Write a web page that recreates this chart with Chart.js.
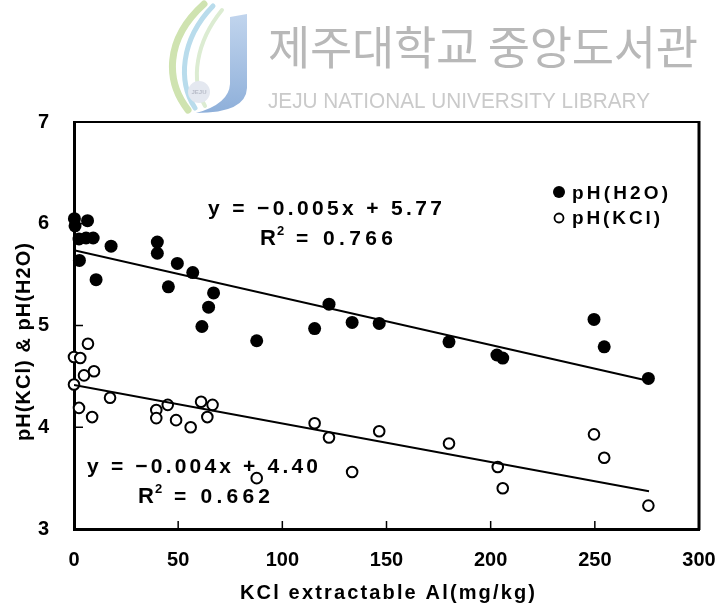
<!DOCTYPE html>
<html><head><meta charset="utf-8">
<style>html,body{margin:0;padding:0;background:#fff;}#wrap{width:722px;height:608px;position:relative;}</style>
<script src="https://cdn.jsdelivr.net/npm/chart.js@4.4.0/dist/chart.umd.min.js"></script>
</head><body><div id="wrap"><canvas id="c" width="722" height="608"></canvas></div>
<script>
// ---- data ----
const h2oX = [0.2, 0.5, 6.5, 2.4, 5.8, 9.2, 17.8, 2.6, 10.6, 40, 40, 49.6, 57, 45.3, 67, 64.6, 61.4, 87.7, 115.5, 122.4, 133.5, 146.5, 180, 203, 205.8, 249.6, 254.5, 275.7];
const h2oY = [6.05, 5.98, 6.03, 5.85, 5.86, 5.86, 5.78, 5.64, 5.45, 5.82, 5.71, 5.61, 5.52, 5.38, 5.32, 5.18, 4.99, 4.85, 4.97, 5.21, 5.03, 5.02, 4.84, 4.71, 4.68, 5.06, 4.79, 4.48];
const kclX = [6.7, 0, 3, 4.8, 9.6, 0, 17.3, 2.4, 8.7, 39.5, 39.5, 45, 49, 56, 61, 66.5, 64, 87.7, 115.5, 122.4, 133.5, 146.5, 180, 203.4, 205.8, 249.6, 254.5, 275.7];
const kclY = [4.82, 4.69, 4.68, 4.51, 4.55, 4.42, 4.29, 4.19, 4.10, 4.17, 4.09, 4.22, 4.07, 4.00, 4.25, 4.22, 4.10, 3.50, 4.04, 3.90, 3.56, 3.96, 3.84, 3.61, 3.40, 3.93, 3.70, 3.23];
const fitH2oX = [0, 275];
const fitH2oY = [5.74, 4.46];
const fitKclX = [0, 276];
const fitKclY = [4.415, 3.37];
const xTicks = [0, 50, 100, 150, 200, 250, 300];
const yTicks = [3, 4, 5, 6, 7];
const seriesNames = ['pH(H2O)', 'pH(KCl)'];
const eqH2o = ['y = \u22120.005x + 5.77', 'R', '2', ' = 0.766'];
const eqKcl = ['y = \u22120.004x + 4.40', 'R', '2', ' = 0.662'];
const xTitle = 'KCl extractable Al(mg/kg)';
const yTitle = 'pH(KCl) & pH(H2O)';
const wmKo = '제주대학교 중앙도서관';
const wmEn = 'JEJU NATIONAL UNIVERSITY LIBRARY';

const toPts = (xs, ys) => xs.map((x, i) => ({x: x, y: ys[i]}));
const FONT = "'Liberation Sans', Arial, sans-serif";

function fitText(ctx, text, x, y, w, font, color) {
  ctx.font = font; ctx.letterSpacing = '0px';
  const m = ctx.measureText(text).width;
  const n = [...text].length;
  const ls = n > 1 ? (w - m) / (n - 1) : 0;
  ctx.letterSpacing = ls + 'px';
  ctx.fillStyle = color; ctx.fillText(text, x, y);
  ctx.letterSpacing = '0px';
}

const decor = {
  id: 'decor',
  beforeDraw(chart) {
    const ctx = chart.ctx;
    ctx.save();
    // logo swooshes
    ctx.lineCap = 'round';
    const sw = [['#cfe3b0', 7, [204,4, 164,40, 166,82, 188,110]], ['#b9dcec', 5, [213,6, 180,40, 178,82, 195,108]], ['#dcecd2', 4, [222,10, 196,42, 190,80, 205,106]]];
    sw.forEach(s => { ctx.strokeStyle = s[0]; ctx.lineWidth = s[1]; const p = s[2];
      ctx.beginPath(); ctx.moveTo(p[0], p[1]); ctx.bezierCurveTo(p[2], p[3], p[4], p[5], p[6], p[7]); ctx.stroke(); });
    const g = ctx.createLinearGradient(0, 10, 0, 112);
    g.addColorStop(0, '#c3d6ee'); g.addColorStop(1, '#8fb0da');
    ctx.fillStyle = g;
    ctx.beginPath(); ctx.moveTo(230, 17); ctx.lineTo(247, 14); ctx.lineTo(247, 88);
    ctx.quadraticCurveTo(246, 113, 196, 113); ctx.quadraticCurveTo(229, 104, 230, 84); ctx.closePath(); ctx.fill();
    ctx.fillStyle = '#e4e8f0'; ctx.beginPath(); ctx.arc(199, 92, 11, 0, Math.PI * 2); ctx.fill();
    ctx.fillStyle = '#b8bcc8'; ctx.font = "bold 6px " + FONT; ctx.textAlign = 'center';
    ctx.fillText('JEJU', 199, 94);
    ctx.textAlign = 'left';
    // watermark text
    fitText(ctx, wmKo, 268, 64, 430, "46px 'Noto Sans CJK KR'", '#b8b8b8');
    ctx.font = "22px 'Liberation Sans Narrow', 'Liberation Sans', sans-serif";
    const mw = ctx.measureText(wmEn).width;
    ctx.save(); ctx.translate(268, 108); ctx.scale(382 / mw, 1);
    ctx.fillStyle = '#cacaca'; ctx.fillText(wmEn, 0, 0); ctx.restore();
    ctx.restore();
  },
  afterDraw(chart) {
    const ctx = chart.ctx, a = chart.chartArea, xs = chart.scales.x, ys = chart.scales.y;
    ctx.save();
    ctx.strokeStyle = '#000';
    // top and right frame
    ctx.lineWidth = 2; ctx.beginPath(); ctx.moveTo(a.left - 1, a.top); ctx.lineTo(a.right, a.top); ctx.stroke();
    ctx.lineWidth = 3; ctx.beginPath(); ctx.moveTo(a.right, a.top - 1); ctx.lineTo(a.right, a.bottom + 1); ctx.stroke();
    // inward ticks
    ctx.lineWidth = 1.5;
    xTicks.slice(1, -1).forEach(v => { const px = xs.getPixelForValue(v); ctx.beginPath(); ctx.moveTo(px, a.bottom); ctx.lineTo(px, a.bottom - 8); ctx.stroke(); });
    yTicks.slice(1, -1).forEach(v => { const py = ys.getPixelForValue(v); ctx.beginPath(); ctx.moveTo(a.left, py); ctx.lineTo(a.left + 9, py); ctx.stroke(); });
    // titles
    ctx.fillStyle = '#000'; ctx.textBaseline = 'alphabetic';
    fitText(ctx, xTitle, 240, 599, 295, "bold 20px " + FONT, '#000');
    ctx.save(); ctx.translate(30, 441); ctx.rotate(-Math.PI / 2);
    fitText(ctx, yTitle, 0, 0, 198, "bold 20px " + FONT, '#000'); ctx.restore();
    // equations
    const eqs = [[eqH2o, 208, 215, 234, 260, 245, 133], [eqKcl, 87, 473, 231, 138, 503, 132]];
    eqs.forEach(e => {
      const t = e[0];
      fitText(ctx, t[0], e[1], e[2], e[3], "bold 21px " + FONT, '#000');
      ctx.font = "bold 22px " + FONT; const rw = ctx.measureText(t[1]).width;
      ctx.fillText(t[1], e[4], e[5]);
      ctx.font = "bold 13px " + FONT; ctx.fillText(t[2], e[4] + rw + 1, e[5] - 10);
      const restX = e[4] + rw + 10;
      fitText(ctx, t[3], restX, e[5], e[4] + e[6] - restX, "bold 21px " + FONT, '#000');
    });
    // legend
    ctx.fillStyle = '#000'; ctx.beginPath(); ctx.arc(559, 192, 6, 0, Math.PI * 2); ctx.fill();
    fitText(ctx, seriesNames[0], 572, 199, 96, "bold 19px " + FONT, '#000');
    ctx.lineWidth = 1.8; ctx.fillStyle = '#fff'; ctx.beginPath(); ctx.arc(559, 218, 4.5, 0, Math.PI * 2); ctx.fill(); ctx.stroke();
    fitText(ctx, seriesNames[1], 572, 224, 88, "bold 19px " + FONT, '#000');
    ctx.restore();
  }
};

new Chart(document.getElementById('c'), {
  type: 'scatter',
  data: {
    datasets: [
      {label: seriesNames[0], data: toPts(h2oX, h2oY), pointRadius: 6.5, pointHoverRadius: 6.5, backgroundColor: '#000', borderWidth: 0, clip: false, order: 1},
      {label: seriesNames[1], data: toPts(kclX, kclY), pointRadius: 5.3, pointHoverRadius: 5.3, backgroundColor: '#fff', borderColor: '#000', borderWidth: 2, clip: false, order: 2},
      {type: 'line', label: 'fitH2O', data: toPts(fitH2oX, fitH2oY), borderColor: '#000', borderWidth: 2, pointRadius: 0, fill: false, order: 3},
      {type: 'line', label: 'fitKCl', data: toPts(fitKclX, fitKclY), borderColor: '#000', borderWidth: 2, pointRadius: 0, fill: false, order: 0}
    ]
  },
  options: {
    responsive: false, animation: false, devicePixelRatio: 1,
    layout: {padding: {left: 0, top: 122, right: 23, bottom: 0}},
    plugins: {legend: {display: false}, tooltip: {enabled: false}},
    scales: {
      x: {type: 'linear', min: 0, max: 300,
        afterBuildTicks: s => { s.ticks = xTicks.map(v => ({value: v})); },
        afterFit: s => { s.height = 79; s.paddingLeft = 0; s.paddingRight = 0; },
        grid: {display: false, drawTicks: false},
        border: {display: true, color: '#000', width: 3},
        ticks: {color: '#000', padding: 19, font: {family: FONT, size: 20, weight: 'bold'}, maxRotation: 0}
      },
      y: {type: 'linear', min: 3, max: 7,
        afterBuildTicks: s => { s.ticks = yTicks.map(v => ({value: v})); },
        afterFit: s => { s.width = 74; s.paddingTop = 0; s.paddingBottom = 0; },
        grid: {display: false, drawTicks: false},
        border: {display: true, color: '#000', width: 3},
        ticks: {color: '#000', padding: 25, font: {family: FONT, size: 20, weight: 'bold'}}
      }
    }
  },
  plugins: [decor]
});
</script></body></html>
